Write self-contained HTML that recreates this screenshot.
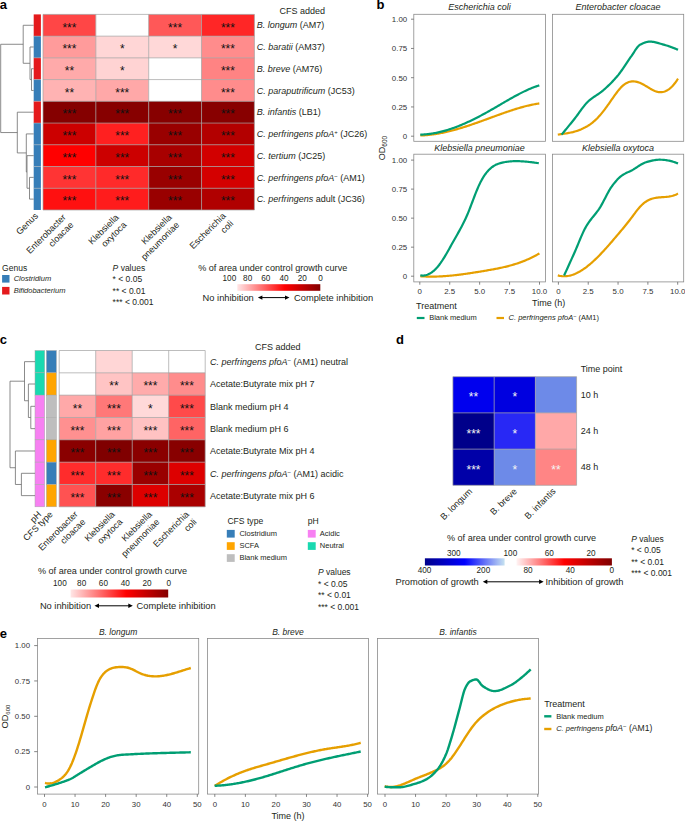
<!DOCTYPE html>
<html><head><meta charset="utf-8"><style>
html,body{margin:0;padding:0;background:#fff;}
body{width:685px;height:821px;overflow:hidden;}
svg{display:block;font-family:"Liberation Sans", sans-serif;}
</style></head><body>
<svg width="685" height="821" viewBox="0 0 685 821">
<text x="-0.30" y="9.30" font-size="13" text-anchor="start" fill="#000" font-weight="bold">a</text>
<rect x="43.00" y="14.40" width="52.85" height="21.73" fill="#ff4646"/>
<rect x="95.85" y="14.40" width="52.85" height="21.73" fill="#ffffff"/>
<rect x="148.70" y="14.40" width="52.85" height="21.73" fill="#ff5858"/>
<rect x="201.55" y="14.40" width="52.85" height="21.73" fill="#ff2626"/>
<rect x="43.00" y="36.13" width="52.85" height="21.73" fill="#ff9b9b"/>
<rect x="95.85" y="36.13" width="52.85" height="21.73" fill="#ffd6d6"/>
<rect x="148.70" y="36.13" width="52.85" height="21.73" fill="#ffd8d8"/>
<rect x="201.55" y="36.13" width="52.85" height="21.73" fill="#ff8c8c"/>
<rect x="43.00" y="57.86" width="52.85" height="21.73" fill="#ffaaaa"/>
<rect x="95.85" y="57.86" width="52.85" height="21.73" fill="#ffd3d3"/>
<rect x="148.70" y="57.86" width="52.85" height="21.73" fill="#ffffff"/>
<rect x="201.55" y="57.86" width="52.85" height="21.73" fill="#ff8383"/>
<rect x="43.00" y="79.59" width="52.85" height="21.73" fill="#ffb3b3"/>
<rect x="95.85" y="79.59" width="52.85" height="21.73" fill="#ffa8a8"/>
<rect x="148.70" y="79.59" width="52.85" height="21.73" fill="#ffffff"/>
<rect x="201.55" y="79.59" width="52.85" height="21.73" fill="#ff8c8c"/>
<rect x="43.00" y="101.32" width="52.85" height="21.73" fill="#850000"/>
<rect x="95.85" y="101.32" width="52.85" height="21.73" fill="#870000"/>
<rect x="148.70" y="101.32" width="52.85" height="21.73" fill="#870000"/>
<rect x="201.55" y="101.32" width="52.85" height="21.73" fill="#880000"/>
<rect x="43.00" y="123.05" width="52.85" height="21.73" fill="#cc0000"/>
<rect x="95.85" y="123.05" width="52.85" height="21.73" fill="#ff2020"/>
<rect x="148.70" y="123.05" width="52.85" height="21.73" fill="#990000"/>
<rect x="201.55" y="123.05" width="52.85" height="21.73" fill="#b30000"/>
<rect x="43.00" y="144.78" width="52.85" height="21.73" fill="#ff0000"/>
<rect x="95.85" y="144.78" width="52.85" height="21.73" fill="#cc0000"/>
<rect x="148.70" y="144.78" width="52.85" height="21.73" fill="#a80000"/>
<rect x="201.55" y="144.78" width="52.85" height="21.73" fill="#d20000"/>
<rect x="43.00" y="166.51" width="52.85" height="21.73" fill="#ff3434"/>
<rect x="95.85" y="166.51" width="52.85" height="21.73" fill="#ff2a2a"/>
<rect x="148.70" y="166.51" width="52.85" height="21.73" fill="#990000"/>
<rect x="201.55" y="166.51" width="52.85" height="21.73" fill="#d40000"/>
<rect x="43.00" y="188.24" width="52.85" height="21.73" fill="#ff1010"/>
<rect x="95.85" y="188.24" width="52.85" height="21.73" fill="#ff1c1c"/>
<rect x="148.70" y="188.24" width="52.85" height="21.73" fill="#990000"/>
<rect x="201.55" y="188.24" width="52.85" height="21.73" fill="#b00000"/>
<line x1="43.00" y1="14.40" x2="254.40" y2="14.40" stroke="#a0a0a0" stroke-width="0.7"/>
<line x1="43.00" y1="36.13" x2="254.40" y2="36.13" stroke="#a0a0a0" stroke-width="0.7"/>
<line x1="43.00" y1="57.86" x2="254.40" y2="57.86" stroke="#a0a0a0" stroke-width="0.7"/>
<line x1="43.00" y1="79.59" x2="254.40" y2="79.59" stroke="#a0a0a0" stroke-width="0.7"/>
<line x1="43.00" y1="101.32" x2="254.40" y2="101.32" stroke="#a0a0a0" stroke-width="0.7"/>
<line x1="43.00" y1="123.05" x2="254.40" y2="123.05" stroke="#a0a0a0" stroke-width="0.7"/>
<line x1="43.00" y1="144.78" x2="254.40" y2="144.78" stroke="#a0a0a0" stroke-width="0.7"/>
<line x1="43.00" y1="166.51" x2="254.40" y2="166.51" stroke="#a0a0a0" stroke-width="0.7"/>
<line x1="43.00" y1="188.24" x2="254.40" y2="188.24" stroke="#a0a0a0" stroke-width="0.7"/>
<line x1="43.00" y1="209.97" x2="254.40" y2="209.97" stroke="#a0a0a0" stroke-width="0.7"/>
<line x1="43.00" y1="14.40" x2="43.00" y2="209.97" stroke="#a0a0a0" stroke-width="0.7"/>
<line x1="95.85" y1="14.40" x2="95.85" y2="209.97" stroke="#a0a0a0" stroke-width="0.7"/>
<line x1="148.70" y1="14.40" x2="148.70" y2="209.97" stroke="#a0a0a0" stroke-width="0.7"/>
<line x1="201.55" y1="14.40" x2="201.55" y2="209.97" stroke="#a0a0a0" stroke-width="0.7"/>
<line x1="254.40" y1="14.40" x2="254.40" y2="209.97" stroke="#a0a0a0" stroke-width="0.7"/>
<text x="69.42" y="31.57" font-size="12" text-anchor="middle" fill="#111">***</text>
<text x="175.12" y="31.57" font-size="12" text-anchor="middle" fill="#111">***</text>
<text x="227.97" y="31.57" font-size="12" text-anchor="middle" fill="#111">***</text>
<text x="69.42" y="53.29" font-size="12" text-anchor="middle" fill="#111">***</text>
<text x="122.28" y="53.29" font-size="12" text-anchor="middle" fill="#111">*</text>
<text x="175.12" y="53.29" font-size="12" text-anchor="middle" fill="#111">*</text>
<text x="227.97" y="53.29" font-size="12" text-anchor="middle" fill="#111">***</text>
<text x="69.42" y="75.03" font-size="12" text-anchor="middle" fill="#111">**</text>
<text x="122.28" y="75.03" font-size="12" text-anchor="middle" fill="#111">*</text>
<text x="227.97" y="75.03" font-size="12" text-anchor="middle" fill="#111">***</text>
<text x="69.42" y="96.76" font-size="12" text-anchor="middle" fill="#111">**</text>
<text x="122.28" y="96.76" font-size="12" text-anchor="middle" fill="#111">***</text>
<text x="227.97" y="96.76" font-size="12" text-anchor="middle" fill="#111">***</text>
<text x="69.42" y="118.48" font-size="12" text-anchor="middle" fill="#111">***</text>
<text x="122.28" y="118.48" font-size="12" text-anchor="middle" fill="#111">***</text>
<text x="175.12" y="118.48" font-size="12" text-anchor="middle" fill="#111">***</text>
<text x="227.97" y="118.48" font-size="12" text-anchor="middle" fill="#111">***</text>
<text x="69.42" y="140.22" font-size="12" text-anchor="middle" fill="#111">***</text>
<text x="122.28" y="140.22" font-size="12" text-anchor="middle" fill="#111">***</text>
<text x="175.12" y="140.22" font-size="12" text-anchor="middle" fill="#111">***</text>
<text x="227.97" y="140.22" font-size="12" text-anchor="middle" fill="#111">***</text>
<text x="69.42" y="161.95" font-size="12" text-anchor="middle" fill="#111">***</text>
<text x="122.28" y="161.95" font-size="12" text-anchor="middle" fill="#111">***</text>
<text x="175.12" y="161.95" font-size="12" text-anchor="middle" fill="#111">***</text>
<text x="227.97" y="161.95" font-size="12" text-anchor="middle" fill="#111">***</text>
<text x="69.42" y="183.68" font-size="12" text-anchor="middle" fill="#111">***</text>
<text x="122.28" y="183.68" font-size="12" text-anchor="middle" fill="#111">***</text>
<text x="175.12" y="183.68" font-size="12" text-anchor="middle" fill="#111">***</text>
<text x="227.97" y="183.68" font-size="12" text-anchor="middle" fill="#111">***</text>
<text x="69.42" y="205.41" font-size="12" text-anchor="middle" fill="#111">***</text>
<text x="122.28" y="205.41" font-size="12" text-anchor="middle" fill="#111">***</text>
<text x="175.12" y="205.41" font-size="12" text-anchor="middle" fill="#111">***</text>
<text x="227.97" y="205.41" font-size="12" text-anchor="middle" fill="#111">***</text>
<rect x="33.70" y="14.40" width="7.20" height="21.73" fill="#e41a1c"/>
<rect x="33.70" y="36.13" width="7.20" height="21.73" fill="#377eb8"/>
<rect x="33.70" y="57.86" width="7.20" height="21.73" fill="#e41a1c"/>
<rect x="33.70" y="79.59" width="7.20" height="21.73" fill="#377eb8"/>
<rect x="33.70" y="101.32" width="7.20" height="21.73" fill="#e41a1c"/>
<rect x="33.70" y="123.05" width="7.20" height="21.73" fill="#377eb8"/>
<rect x="33.70" y="144.78" width="7.20" height="21.73" fill="#377eb8"/>
<rect x="33.70" y="166.51" width="7.20" height="21.73" fill="#377eb8"/>
<rect x="33.70" y="188.24" width="7.20" height="21.73" fill="#377eb8"/>
<line x1="33.70" y1="36.13" x2="40.90" y2="36.13" stroke="#bbbbbb" stroke-width="0.5"/>
<line x1="33.70" y1="57.86" x2="40.90" y2="57.86" stroke="#bbbbbb" stroke-width="0.5"/>
<line x1="33.70" y1="79.59" x2="40.90" y2="79.59" stroke="#bbbbbb" stroke-width="0.5"/>
<line x1="33.70" y1="101.32" x2="40.90" y2="101.32" stroke="#bbbbbb" stroke-width="0.5"/>
<line x1="33.70" y1="123.05" x2="40.90" y2="123.05" stroke="#bbbbbb" stroke-width="0.5"/>
<line x1="33.70" y1="144.78" x2="40.90" y2="144.78" stroke="#bbbbbb" stroke-width="0.5"/>
<line x1="33.70" y1="166.51" x2="40.90" y2="166.51" stroke="#bbbbbb" stroke-width="0.5"/>
<line x1="33.70" y1="188.24" x2="40.90" y2="188.24" stroke="#bbbbbb" stroke-width="0.5"/>
<text x="256.70" y="28.46" font-size="9" text-anchor="start" fill="#231f20"><tspan font-style="italic">B. longum</tspan> (AM7)</text>
<text x="256.70" y="50.20" font-size="9" text-anchor="start" fill="#231f20"><tspan font-style="italic">C. baratii</tspan> (AM37)</text>
<text x="256.70" y="71.93" font-size="9" text-anchor="start" fill="#231f20"><tspan font-style="italic">B. breve</tspan> (AM76)</text>
<text x="256.70" y="93.66" font-size="9" text-anchor="start" fill="#231f20"><tspan font-style="italic">C. paraputrificum</tspan> (JC53)</text>
<text x="256.70" y="115.39" font-size="9" text-anchor="start" fill="#231f20"><tspan font-style="italic">B. infantis</tspan> (LB1)</text>
<text x="256.70" y="137.11" font-size="9" text-anchor="start" fill="#231f20"><tspan font-style="italic">C. perfringens pfoA</tspan><tspan font-size="6" dy="-3">+</tspan><tspan dy="3"> (JC26)</tspan></text>
<text x="256.70" y="158.84" font-size="9" text-anchor="start" fill="#231f20"><tspan font-style="italic">C. tertium</tspan> (JC25)</text>
<text x="256.70" y="180.57" font-size="9" text-anchor="start" fill="#231f20"><tspan font-style="italic">C. perfringens pfoA</tspan><tspan font-size="6" dy="-3">−</tspan><tspan dy="3"> (AM1)</tspan></text>
<text x="256.70" y="202.31" font-size="9" text-anchor="start" fill="#231f20"><tspan font-style="italic">C. perfringens</tspan> adult (JC36)</text>
<text x="302.30" y="14.00" font-size="9" text-anchor="middle" fill="#231f20">CFS added</text>
<path d="M33.70,68.73 L31.50,68.73 L31.50,90.46 L33.70,90.46" stroke="#6d6d6d" stroke-width="0.8" fill="none"/>
<path d="M33.70,46.99 L30.00,46.99 L30.00,79.59 L31.50,79.59" stroke="#6d6d6d" stroke-width="0.8" fill="none"/>
<path d="M33.70,25.27 L23.20,25.27 L23.20,63.29 L30.00,63.29" stroke="#6d6d6d" stroke-width="0.8" fill="none"/>
<path d="M33.70,177.38 L29.50,177.38 L29.50,199.11 L33.70,199.11" stroke="#6d6d6d" stroke-width="0.8" fill="none"/>
<path d="M33.70,155.65 L27.00,155.65 L27.00,188.24 L29.50,188.24" stroke="#6d6d6d" stroke-width="0.8" fill="none"/>
<path d="M33.70,133.91 L26.30,133.91 L26.30,171.94 L27.00,171.94" stroke="#6d6d6d" stroke-width="0.8" fill="none"/>
<path d="M33.70,112.19 L17.30,112.19 L17.30,152.93 L26.30,152.93" stroke="#6d6d6d" stroke-width="0.8" fill="none"/>
<path d="M23.20,44.28 L0.70,44.28 L0.70,132.56 L17.30,132.56" stroke="#6d6d6d" stroke-width="0.8" fill="none"/>
<g transform="translate(38.60,216.60) rotate(-45)">
<text x="0" y="0.00" font-size="9" text-anchor="end" fill="#231f20">Genus</text>
</g>
<g transform="translate(74.12,225.50) rotate(-45)">
<text x="0" y="-10.80" font-size="9" text-anchor="end" fill="#231f20">Enterobacter</text>
<text x="0" y="0.00" font-size="9" text-anchor="end" fill="#231f20">cloacae</text>
</g>
<g transform="translate(126.98,225.50) rotate(-45)">
<text x="0" y="-10.80" font-size="9" text-anchor="end" fill="#231f20">Klebsiella</text>
<text x="0" y="0.00" font-size="9" text-anchor="end" fill="#231f20">oxytoca</text>
</g>
<g transform="translate(179.82,225.50) rotate(-45)">
<text x="0" y="-10.80" font-size="9" text-anchor="end" fill="#231f20">Klebsiella</text>
<text x="0" y="0.00" font-size="9" text-anchor="end" fill="#231f20">pneumoniae</text>
</g>
<g transform="translate(233.87,224.20) rotate(-45)">
<text x="0" y="-10.80" font-size="9" text-anchor="end" fill="#231f20">Escherichia</text>
<text x="0" y="0.00" font-size="9" text-anchor="end" fill="#231f20">coli</text>
</g>
<text x="2.10" y="271.00" font-size="8.5" text-anchor="start" fill="#231f20">Genus</text>
<rect x="2.10" y="275.00" width="7.40" height="7.60" fill="#377eb8"/>
<text x="13.70" y="281.00" font-size="7.5" text-anchor="start" fill="#231f20" font-style="italic">Clostridium</text>
<rect x="2.10" y="286.90" width="7.40" height="7.60" fill="#e41a1c"/>
<text x="13.70" y="293.00" font-size="7.5" text-anchor="start" fill="#231f20" font-style="italic">Bifidobacterium</text>
<text x="112.60" y="271.00" font-size="8.5" text-anchor="start" fill="#231f20"><tspan font-style="italic">P</tspan> values</text>
<text x="112.60" y="282.30" font-size="8.5" text-anchor="start" fill="#231f20">* &lt; 0.05</text>
<text x="112.60" y="293.60" font-size="8.5" text-anchor="start" fill="#231f20">** &lt; 0.01</text>
<text x="112.60" y="305.00" font-size="8.5" text-anchor="start" fill="#231f20">*** &lt; 0.001</text>
<text x="272.70" y="271.00" font-size="9.1" text-anchor="middle" fill="#231f20">% of area under control growth curve</text>
<text x="229.40" y="280.70" font-size="8.2" text-anchor="middle" fill="#231f20">100</text>
<text x="247.64" y="280.70" font-size="8.2" text-anchor="middle" fill="#231f20">80</text>
<text x="265.88" y="280.70" font-size="8.2" text-anchor="middle" fill="#231f20">60</text>
<text x="284.12" y="280.70" font-size="8.2" text-anchor="middle" fill="#231f20">40</text>
<text x="302.36" y="280.70" font-size="8.2" text-anchor="middle" fill="#231f20">20</text>
<text x="320.60" y="280.70" font-size="8.2" text-anchor="middle" fill="#231f20">0</text>
<defs><linearGradient id="redg" x1="0" x2="1" y1="0" y2="0"><stop offset="0" stop-color="#ffe6e6"/><stop offset="0.57" stop-color="#ff0000"/><stop offset="1" stop-color="#850000"/></linearGradient><linearGradient id="blueg" x1="0" x2="1" y1="0" y2="0"><stop offset="0" stop-color="#00008b"/><stop offset="0.5" stop-color="#0000ff"/><stop offset="1" stop-color="#c6e2f0"/></linearGradient><linearGradient id="redg2" x1="0" x2="1" y1="0" y2="0"><stop offset="0" stop-color="#fff4f4"/><stop offset="0.5" stop-color="#ff0000"/><stop offset="1" stop-color="#800000"/></linearGradient></defs>
<rect x="237.30" y="284.20" width="83.00" height="6.60" fill="url(#redg)"/>
<text x="202.60" y="300.50" font-size="9.3" text-anchor="start" fill="#231f20">No inhibition</text>
<line x1="260.90" y1="297.60" x2="286.50" y2="297.60" stroke="#000" stroke-width="1.0"/>
<path d="M257.90,297.60 L262.40,295.40 L262.40,299.80 Z" stroke="none" stroke-width="0" fill="#000"/>
<path d="M289.50,297.60 L285.00,295.40 L285.00,299.80 Z" stroke="none" stroke-width="0" fill="#000"/>
<text x="294.00" y="300.50" font-size="9.3" text-anchor="start" fill="#231f20">Complete inhibition</text>
<text x="376.60" y="9.10" font-size="13" text-anchor="start" fill="#000" font-weight="bold">b</text>
<rect x="413.80" y="14.30" width="131.70" height="127.00" fill="none" stroke="#8a8a8a" stroke-width="0.8"/>
<line x1="411.00" y1="136.20" x2="413.80" y2="136.20" stroke="#666" stroke-width="0.8"/>
<text x="407.20" y="139.05" font-size="7.9" text-anchor="end" fill="#333">0</text>
<line x1="411.00" y1="106.95" x2="413.80" y2="106.95" stroke="#666" stroke-width="0.8"/>
<text x="407.20" y="109.80" font-size="7.9" text-anchor="end" fill="#333">0.25</text>
<line x1="411.00" y1="77.70" x2="413.80" y2="77.70" stroke="#666" stroke-width="0.8"/>
<text x="407.20" y="80.55" font-size="7.9" text-anchor="end" fill="#333">0.50</text>
<line x1="411.00" y1="48.45" x2="413.80" y2="48.45" stroke="#666" stroke-width="0.8"/>
<text x="407.20" y="51.30" font-size="7.9" text-anchor="end" fill="#333">0.75</text>
<line x1="411.00" y1="19.20" x2="413.80" y2="19.20" stroke="#666" stroke-width="0.8"/>
<text x="407.20" y="22.05" font-size="7.9" text-anchor="end" fill="#333">1.00</text>
<rect x="552.40" y="14.30" width="131.30" height="127.00" fill="none" stroke="#8a8a8a" stroke-width="0.8"/>
<rect x="413.80" y="154.20" width="131.70" height="127.70" fill="none" stroke="#8a8a8a" stroke-width="0.8"/>
<line x1="411.00" y1="276.20" x2="413.80" y2="276.20" stroke="#666" stroke-width="0.8"/>
<text x="407.20" y="279.05" font-size="7.9" text-anchor="end" fill="#333">0</text>
<line x1="411.00" y1="247.17" x2="413.80" y2="247.17" stroke="#666" stroke-width="0.8"/>
<text x="407.20" y="250.02" font-size="7.9" text-anchor="end" fill="#333">0.25</text>
<line x1="411.00" y1="218.15" x2="413.80" y2="218.15" stroke="#666" stroke-width="0.8"/>
<text x="407.20" y="221.00" font-size="7.9" text-anchor="end" fill="#333">0.50</text>
<line x1="411.00" y1="189.12" x2="413.80" y2="189.12" stroke="#666" stroke-width="0.8"/>
<text x="407.20" y="191.97" font-size="7.9" text-anchor="end" fill="#333">0.75</text>
<line x1="411.00" y1="160.10" x2="413.80" y2="160.10" stroke="#666" stroke-width="0.8"/>
<text x="407.20" y="162.95" font-size="7.9" text-anchor="end" fill="#333">1.00</text>
<line x1="419.80" y1="281.90" x2="419.80" y2="284.70" stroke="#666" stroke-width="0.8"/>
<text x="419.80" y="293.80" font-size="7.9" text-anchor="middle" fill="#333">0</text>
<line x1="449.73" y1="281.90" x2="449.73" y2="284.70" stroke="#666" stroke-width="0.8"/>
<text x="449.73" y="293.80" font-size="7.9" text-anchor="middle" fill="#333">2.5</text>
<line x1="479.65" y1="281.90" x2="479.65" y2="284.70" stroke="#666" stroke-width="0.8"/>
<text x="479.65" y="293.80" font-size="7.9" text-anchor="middle" fill="#333">5.0</text>
<line x1="509.57" y1="281.90" x2="509.57" y2="284.70" stroke="#666" stroke-width="0.8"/>
<text x="509.57" y="293.80" font-size="7.9" text-anchor="middle" fill="#333">7.5</text>
<line x1="539.50" y1="281.90" x2="539.50" y2="284.70" stroke="#666" stroke-width="0.8"/>
<text x="539.50" y="293.80" font-size="7.9" text-anchor="middle" fill="#333">10.0</text>
<rect x="552.40" y="154.20" width="131.30" height="127.70" fill="none" stroke="#8a8a8a" stroke-width="0.8"/>
<line x1="558.40" y1="281.90" x2="558.40" y2="284.70" stroke="#666" stroke-width="0.8"/>
<text x="558.40" y="293.80" font-size="7.9" text-anchor="middle" fill="#333">0</text>
<line x1="588.23" y1="281.90" x2="588.23" y2="284.70" stroke="#666" stroke-width="0.8"/>
<text x="588.23" y="293.80" font-size="7.9" text-anchor="middle" fill="#333">2.5</text>
<line x1="618.05" y1="281.90" x2="618.05" y2="284.70" stroke="#666" stroke-width="0.8"/>
<text x="618.05" y="293.80" font-size="7.9" text-anchor="middle" fill="#333">5.0</text>
<line x1="647.88" y1="281.90" x2="647.88" y2="284.70" stroke="#666" stroke-width="0.8"/>
<text x="647.88" y="293.80" font-size="7.9" text-anchor="middle" fill="#333">7.5</text>
<line x1="677.70" y1="281.90" x2="677.70" y2="284.70" stroke="#666" stroke-width="0.8"/>
<text x="677.70" y="293.80" font-size="7.9" text-anchor="middle" fill="#333">10.0</text>
<text x="479.60" y="9.60" font-size="9" text-anchor="middle" fill="#231f20" font-style="italic">Escherichia coli</text>
<text x="618.00" y="9.60" font-size="9" text-anchor="middle" fill="#231f20" font-style="italic">Enterobacter cloacae</text>
<text x="479.60" y="151.00" font-size="9" text-anchor="middle" fill="#231f20" font-style="italic">Klebsiella pneumoniae</text>
<text x="618.00" y="151.00" font-size="9" text-anchor="middle" fill="#231f20" font-style="italic">Klebsiella oxytoca</text>
<text transform="translate(384.9,160.2) rotate(-90)" font-size="9" fill="#231f20">OD<tspan font-size="6.5" dy="2.2">600</tspan></text>
<text x="548.70" y="305.70" font-size="9" text-anchor="middle" fill="#231f20">Time (h)</text>
<text x="416.00" y="309.20" font-size="9" text-anchor="start" fill="#231f20">Treatment</text>
<line x1="416.80" y1="318.00" x2="424.50" y2="318.00" stroke="#009e73" stroke-width="2.2"/>
<text x="429.20" y="320.30" font-size="7.5" text-anchor="start" fill="#231f20">Blank medium</text>
<line x1="496.50" y1="318.00" x2="504.00" y2="318.00" stroke="#e69f00" stroke-width="2.2"/>
<text x="508.60" y="320.30" font-size="7.5" text-anchor="start" fill="#231f20"><tspan font-style="italic">C. perfringens pfoA</tspan><tspan font-size="5.5" dy="-2.6">−</tspan><tspan dy="2.6"> (AM1)</tspan></text>
<path d="M420.30,135.46 L421.30,135.43 L422.30,135.39 L423.30,135.34 L424.30,135.28 L425.30,135.22 L426.30,135.14 L427.30,135.06 L428.30,134.96 L429.30,134.86 L430.30,134.75 L431.30,134.63 L432.30,134.51 L433.30,134.37 L434.30,134.23 L435.30,134.08 L436.30,133.92 L437.30,133.76 L438.30,133.58 L439.30,133.40 L440.30,133.22 L441.30,133.02 L442.30,132.82 L443.30,132.62 L444.30,132.40 L445.30,132.18 L446.30,131.96 L447.30,131.72 L448.30,131.48 L449.30,131.24 L450.30,130.99 L451.30,130.74 L452.30,130.47 L453.30,130.21 L454.30,129.94 L455.30,129.66 L456.30,129.38 L457.30,129.09 L458.30,128.80 L459.30,128.51 L460.30,128.21 L461.30,127.91 L462.30,127.60 L463.30,127.29 L464.30,126.97 L465.30,126.65 L466.30,126.33 L467.30,126.00 L468.30,125.67 L469.30,125.34 L470.30,125.01 L471.30,124.67 L472.30,124.33 L473.30,123.98 L474.30,123.64 L475.30,123.29 L476.30,122.94 L477.30,122.59 L478.30,122.23 L479.30,121.88 L480.30,121.52 L481.30,121.16 L482.30,120.80 L483.30,120.44 L484.30,120.08 L485.30,119.71 L486.30,119.35 L487.30,118.98 L488.30,118.62 L489.30,118.25 L490.30,117.88 L491.30,117.52 L492.30,117.15 L493.30,116.79 L494.30,116.42 L495.30,116.05 L496.30,115.69 L497.30,115.33 L498.30,114.96 L499.30,114.60 L500.30,114.24 L501.30,113.89 L502.30,113.53 L503.30,113.18 L504.30,112.82 L505.30,112.48 L506.30,112.13 L507.30,111.79 L508.30,111.45 L509.30,111.11 L510.30,110.77 L511.30,110.44 L512.30,110.12 L513.30,109.79 L514.30,109.48 L515.30,109.16 L516.30,108.85 L517.30,108.55 L518.30,108.25 L519.30,107.95 L520.30,107.66 L521.30,107.38 L522.30,107.10 L523.30,106.83 L524.30,106.56 L525.30,106.30 L526.30,106.05 L527.30,105.80 L528.30,105.56 L529.30,105.33 L530.30,105.10 L531.30,104.88 L532.30,104.67 L533.30,104.47 L534.30,104.27 L535.30,104.09 L536.30,103.91 L537.30,103.74 L538.30,103.58 L539.30,103.42" stroke="#e69f00" stroke-width="2.2" fill="none" stroke-linecap="butt" stroke-linejoin="round"/>
<path d="M420.30,134.60 L421.30,134.58 L422.30,134.54 L423.30,134.49 L424.30,134.43 L425.30,134.36 L426.30,134.27 L427.30,134.18 L428.30,134.07 L429.30,133.95 L430.30,133.82 L431.30,133.68 L432.30,133.53 L433.30,133.37 L434.30,133.19 L435.30,133.01 L436.30,132.82 L437.30,132.61 L438.30,132.40 L439.30,132.17 L440.30,131.94 L441.30,131.69 L442.30,131.44 L443.30,131.18 L444.30,130.90 L445.30,130.62 L446.30,130.33 L447.30,130.03 L448.30,129.72 L449.30,129.40 L450.30,129.07 L451.30,128.74 L452.30,128.40 L453.30,128.04 L454.30,127.68 L455.30,127.32 L456.30,126.94 L457.30,126.56 L458.30,126.17 L459.30,125.77 L460.30,125.36 L461.30,124.95 L462.30,124.53 L463.30,124.10 L464.30,123.67 L465.30,123.23 L466.30,122.78 L467.30,122.32 L468.30,121.86 L469.30,121.40 L470.30,120.92 L471.30,120.45 L472.30,119.96 L473.30,119.47 L474.30,118.98 L475.30,118.48 L476.30,117.97 L477.30,117.46 L478.30,116.94 L479.30,116.42 L480.30,115.89 L481.30,115.36 L482.30,114.83 L483.30,114.29 L484.30,113.74 L485.30,113.20 L486.30,112.64 L487.30,112.09 L488.30,111.53 L489.30,110.96 L490.30,110.40 L491.30,109.83 L492.30,109.25 L493.30,108.68 L494.30,108.10 L495.30,107.52 L496.30,106.93 L497.30,106.35 L498.30,105.76 L499.30,105.18 L500.30,104.59 L501.30,104.01 L502.30,103.42 L503.30,102.84 L504.30,102.25 L505.30,101.67 L506.30,101.09 L507.30,100.51 L508.30,99.94 L509.30,99.37 L510.30,98.80 L511.30,98.23 L512.30,97.67 L513.30,97.11 L514.30,96.56 L515.30,96.02 L516.30,95.47 L517.30,94.94 L518.30,94.41 L519.30,93.89 L520.30,93.37 L521.30,92.86 L522.30,92.36 L523.30,91.87 L524.30,91.38 L525.30,90.91 L526.30,90.44 L527.30,89.98 L528.30,89.54 L529.30,89.10 L530.30,88.67 L531.30,88.26 L532.30,87.85 L533.30,87.46 L534.30,87.08 L535.30,86.71 L536.30,86.35 L537.30,86.01 L538.30,85.68 L539.30,85.36" stroke="#009e73" stroke-width="2.2" fill="none" stroke-linecap="butt" stroke-linejoin="round"/>
<path d="M557.80,134.61 L558.80,134.47 L559.80,134.34 L560.80,134.20 L561.80,134.06 L562.80,133.92 L563.80,133.78 L564.80,133.63 L565.80,133.47 L566.80,133.30 L567.80,133.13 L568.80,132.94 L569.80,132.75 L570.80,132.54 L571.80,132.31 L572.80,132.08 L573.80,131.82 L574.80,131.55 L575.80,131.26 L576.80,130.95 L577.80,130.62 L578.80,130.26 L579.80,129.88 L580.80,129.48 L581.80,129.05 L582.80,128.60 L583.80,128.11 L584.80,127.60 L585.80,127.05 L586.80,126.48 L587.80,125.87 L588.80,125.22 L589.80,124.54 L590.80,123.82 L591.80,123.07 L592.80,122.27 L593.80,121.44 L594.80,120.56 L595.80,119.64 L596.80,118.68 L597.80,117.67 L598.80,116.61 L599.80,115.51 L600.80,114.36 L601.80,113.16 L602.80,111.91 L603.80,110.63 L604.80,109.31 L605.80,107.96 L606.80,106.59 L607.80,105.19 L608.80,103.78 L609.80,102.35 L610.80,100.92 L611.80,99.48 L612.80,98.04 L613.80,96.61 L614.80,95.20 L615.80,93.82 L616.80,92.48 L617.80,91.18 L618.80,89.93 L619.80,88.74 L620.80,87.63 L621.80,86.60 L622.80,85.66 L623.80,84.82 L624.80,84.07 L625.80,83.43 L626.80,82.88 L627.80,82.42 L628.80,82.05 L629.80,81.77 L630.80,81.56 L631.80,81.44 L632.80,81.39 L633.80,81.41 L634.80,81.49 L635.80,81.65 L636.80,81.86 L637.80,82.13 L638.80,82.46 L639.80,82.83 L640.80,83.26 L641.80,83.73 L642.80,84.24 L643.80,84.78 L644.80,85.36 L645.80,85.95 L646.80,86.56 L647.80,87.17 L648.80,87.78 L649.80,88.38 L650.80,88.96 L651.80,89.52 L652.80,90.04 L653.80,90.53 L654.80,90.96 L655.80,91.34 L656.80,91.66 L657.80,91.91 L658.80,92.08 L659.80,92.17 L660.80,92.19 L661.80,92.12 L662.80,91.98 L663.80,91.75 L664.80,91.43 L665.80,91.03 L666.80,90.54 L667.80,89.96 L668.80,89.29 L669.80,88.53 L670.80,87.68 L671.80,86.73 L672.80,85.69 L673.80,84.55 L674.80,83.31 L675.80,81.97 L676.80,80.52 L677.80,78.98 L678.00,78.66" stroke="#e69f00" stroke-width="2.2" fill="none" stroke-linecap="butt" stroke-linejoin="round"/>
<path d="M561.60,134.60 L562.60,133.41 L563.60,132.21 L564.60,131.01 L565.60,129.80 L566.60,128.59 L567.60,127.38 L568.60,126.16 L569.60,124.93 L570.60,123.71 L571.60,122.47 L572.60,121.24 L573.60,120.00 L574.60,118.74 L575.60,117.44 L576.60,116.10 L577.60,114.74 L578.60,113.35 L579.60,111.96 L580.60,110.58 L581.60,109.21 L582.60,107.87 L583.60,106.57 L584.60,105.32 L585.60,104.13 L586.60,103.01 L587.60,101.98 L588.60,101.03 L589.60,100.16 L590.60,99.35 L591.60,98.59 L592.60,97.87 L593.60,97.18 L594.60,96.51 L595.60,95.85 L596.60,95.20 L597.60,94.54 L598.60,93.86 L599.60,93.16 L600.60,92.43 L601.60,91.66 L602.60,90.83 L603.60,89.97 L604.60,89.10 L605.60,88.21 L606.60,87.30 L607.60,86.36 L608.60,85.41 L609.60,84.44 L610.60,83.44 L611.60,82.42 L612.60,81.38 L613.60,80.31 L614.60,79.22 L615.60,78.11 L616.60,76.97 L617.60,75.80 L618.60,74.58 L619.60,73.28 L620.60,71.92 L621.60,70.51 L622.60,69.05 L623.60,67.57 L624.60,66.06 L625.60,64.54 L626.60,63.03 L627.60,61.53 L628.60,60.05 L629.60,58.61 L630.60,57.21 L631.60,55.82 L632.60,54.33 L633.60,52.78 L634.60,51.22 L635.60,49.70 L636.60,48.27 L637.60,46.98 L638.60,45.87 L639.60,44.99 L640.60,44.40 L641.60,43.92 L642.60,43.46 L643.60,43.04 L644.60,42.65 L645.60,42.32 L646.60,42.04 L647.60,41.82 L648.60,41.67 L649.60,41.60 L650.60,41.61 L651.60,41.68 L652.60,41.79 L653.60,41.95 L654.60,42.14 L655.60,42.36 L656.60,42.61 L657.60,42.88 L658.60,43.17 L659.60,43.46 L660.60,43.76 L661.60,44.05 L662.60,44.34 L663.60,44.61 L664.60,44.89 L665.60,45.19 L666.60,45.50 L667.60,45.82 L668.60,46.15 L669.60,46.49 L670.60,46.85 L671.60,47.22 L672.60,47.60 L673.60,47.98 L674.60,48.38 L675.60,48.79 L676.60,49.20 L677.60,49.63 L678.00,49.80" stroke="#009e73" stroke-width="2.2" fill="none" stroke-linecap="butt" stroke-linejoin="round"/>
<path d="M420.30,276.25 L421.30,276.32 L422.30,276.38 L423.30,276.43 L424.30,276.48 L425.30,276.52 L426.30,276.55 L427.30,276.58 L428.30,276.60 L429.30,276.62 L430.30,276.62 L431.30,276.63 L432.30,276.62 L433.30,276.61 L434.30,276.60 L435.30,276.58 L436.30,276.55 L437.30,276.52 L438.30,276.48 L439.30,276.44 L440.30,276.39 L441.30,276.34 L442.30,276.29 L443.30,276.22 L444.30,276.16 L445.30,276.09 L446.30,276.01 L447.30,275.93 L448.30,275.85 L449.30,275.76 L450.30,275.67 L451.30,275.57 L452.30,275.47 L453.30,275.37 L454.30,275.26 L455.30,275.15 L456.30,275.04 L457.30,274.92 L458.30,274.80 L459.30,274.68 L460.30,274.55 L461.30,274.42 L462.30,274.29 L463.30,274.15 L464.30,274.02 L465.30,273.88 L466.30,273.73 L467.30,273.59 L468.30,273.44 L469.30,273.29 L470.30,273.14 L471.30,272.99 L472.30,272.83 L473.30,272.68 L474.30,272.52 L475.30,272.36 L476.30,272.20 L477.30,272.04 L478.30,271.88 L479.30,271.71 L480.30,271.55 L481.30,271.38 L482.30,271.22 L483.30,271.05 L484.30,270.88 L485.30,270.72 L486.30,270.55 L487.30,270.38 L488.30,270.20 L489.30,270.03 L490.30,269.86 L491.30,269.68 L492.30,269.50 L493.30,269.32 L494.30,269.13 L495.30,268.94 L496.30,268.75 L497.30,268.55 L498.30,268.35 L499.30,268.15 L500.30,267.94 L501.30,267.72 L502.30,267.50 L503.30,267.28 L504.30,267.05 L505.30,266.81 L506.30,266.57 L507.30,266.32 L508.30,266.07 L509.30,265.80 L510.30,265.53 L511.30,265.26 L512.30,264.97 L513.30,264.68 L514.30,264.38 L515.30,264.07 L516.30,263.75 L517.30,263.43 L518.30,263.09 L519.30,262.75 L520.30,262.39 L521.30,262.02 L522.30,261.65 L523.30,261.26 L524.30,260.87 L525.30,260.46 L526.30,260.04 L527.30,259.61 L528.30,259.17 L529.30,258.71 L530.30,258.25 L531.30,257.77 L532.30,257.27 L533.30,256.77 L534.30,256.25 L535.30,255.72 L536.30,255.17 L537.30,254.61 L538.30,254.04 L539.30,253.45 L539.40,253.39" stroke="#e69f00" stroke-width="2.2" fill="none" stroke-linecap="butt" stroke-linejoin="round"/>
<path d="M420.30,275.33 L421.30,275.47 L422.30,275.54 L423.30,275.53 L424.30,275.45 L425.30,275.29 L426.30,275.05 L427.30,274.73 L428.30,274.34 L429.30,273.87 L430.30,273.32 L431.30,272.69 L432.30,271.98 L433.30,271.19 L434.30,270.32 L435.30,269.37 L436.30,268.34 L437.30,267.23 L438.30,266.04 L439.30,264.77 L440.30,263.41 L441.30,261.98 L442.30,260.49 L443.30,258.93 L444.30,257.32 L445.30,255.66 L446.30,253.96 L447.30,252.22 L448.30,250.46 L449.30,248.68 L450.30,246.89 L451.30,245.09 L452.30,243.29 L453.30,241.51 L454.30,239.73 L455.30,237.96 L456.30,236.20 L457.30,234.42 L458.30,232.64 L459.30,230.85 L460.30,229.03 L461.30,227.18 L462.30,225.29 L463.30,223.35 L464.30,221.34 L465.30,219.25 L466.30,217.06 L467.30,214.76 L468.30,212.34 L469.30,209.84 L470.30,207.27 L471.30,204.65 L472.30,202.01 L473.30,199.37 L474.30,196.75 L475.30,194.17 L476.30,191.65 L477.30,189.21 L478.30,186.88 L479.30,184.67 L480.30,182.61 L481.30,180.68 L482.30,178.88 L483.30,177.21 L484.30,175.66 L485.30,174.22 L486.30,172.89 L487.30,171.67 L488.30,170.55 L489.30,169.53 L490.30,168.59 L491.30,167.74 L492.30,166.97 L493.30,166.28 L494.30,165.66 L495.30,165.10 L496.30,164.61 L497.30,164.16 L498.30,163.77 L499.30,163.43 L500.30,163.12 L501.30,162.85 L502.30,162.62 L503.30,162.40 L504.30,162.21 L505.30,162.03 L506.30,161.88 L507.30,161.74 L508.30,161.61 L509.30,161.50 L510.30,161.41 L511.30,161.33 L512.30,161.27 L513.30,161.22 L514.30,161.19 L515.30,161.17 L516.30,161.16 L517.30,161.16 L518.30,161.18 L519.30,161.20 L520.30,161.24 L521.30,161.29 L522.30,161.34 L523.30,161.41 L524.30,161.48 L525.30,161.57 L526.30,161.66 L527.30,161.75 L528.30,161.86 L529.30,161.97 L530.30,162.09 L531.30,162.21 L532.30,162.33 L533.30,162.46 L534.30,162.60 L535.30,162.74 L536.30,162.88 L537.30,163.02 L538.30,163.16 L538.80,163.23" stroke="#009e73" stroke-width="2.2" fill="none" stroke-linecap="butt" stroke-linejoin="round"/>
<path d="M557.80,275.41 L558.80,275.66 L559.80,275.87 L560.80,276.03 L561.80,276.15 L562.80,276.23 L563.80,276.26 L564.80,276.25 L565.80,276.19 L566.80,276.10 L567.80,275.97 L568.80,275.79 L569.80,275.58 L570.80,275.33 L571.80,275.04 L572.80,274.72 L573.80,274.36 L574.80,273.96 L575.80,273.53 L576.80,273.07 L577.80,272.57 L578.80,272.05 L579.80,271.49 L580.80,270.90 L581.80,270.28 L582.80,269.63 L583.80,268.95 L584.80,268.25 L585.80,267.52 L586.80,266.76 L587.80,265.98 L588.80,265.18 L589.80,264.35 L590.80,263.50 L591.80,262.62 L592.80,261.73 L593.80,260.81 L594.80,259.87 L595.80,258.92 L596.80,257.95 L597.80,256.95 L598.80,255.95 L599.80,254.92 L600.80,253.88 L601.80,252.83 L602.80,251.76 L603.80,250.68 L604.80,249.59 L605.80,248.48 L606.80,247.37 L607.80,246.24 L608.80,245.11 L609.80,243.97 L610.80,242.82 L611.80,241.66 L612.80,240.50 L613.80,239.33 L614.80,238.15 L615.80,236.97 L616.80,235.79 L617.80,234.61 L618.80,233.42 L619.80,232.24 L620.80,231.05 L621.80,229.86 L622.80,228.67 L623.80,227.46 L624.80,226.25 L625.80,225.03 L626.80,223.79 L627.80,222.54 L628.80,221.27 L629.80,219.98 L630.80,218.67 L631.80,217.33 L632.80,215.99 L633.80,214.63 L634.80,213.29 L635.80,211.96 L636.80,210.67 L637.80,209.41 L638.80,208.20 L639.80,207.05 L640.80,205.98 L641.80,204.98 L642.80,204.06 L643.80,203.21 L644.80,202.44 L645.80,201.73 L646.80,201.08 L647.80,200.51 L648.80,199.99 L649.80,199.53 L650.80,199.13 L651.80,198.78 L652.80,198.48 L653.80,198.22 L654.80,198.00 L655.80,197.82 L656.80,197.67 L657.80,197.54 L658.80,197.44 L659.80,197.35 L660.80,197.28 L661.80,197.21 L662.80,197.15 L663.80,197.08 L664.80,197.01 L665.80,196.94 L666.80,196.84 L667.80,196.73 L668.80,196.60 L669.80,196.43 L670.80,196.24 L671.80,196.01 L672.80,195.74 L673.80,195.42 L674.80,195.06 L675.80,194.64 L676.80,194.16 L677.80,193.61 L678.00,193.50" stroke="#e69f00" stroke-width="2.2" fill="none" stroke-linecap="butt" stroke-linejoin="round"/>
<path d="M564.10,275.50 L565.10,273.31 L566.10,271.12 L567.10,268.93 L568.10,266.73 L569.10,264.53 L570.10,262.33 L571.10,260.12 L572.10,257.91 L573.10,255.69 L574.10,253.48 L575.10,251.21 L576.10,248.87 L577.10,246.48 L578.10,244.07 L579.10,241.66 L580.10,239.27 L581.10,236.92 L582.10,234.63 L583.10,232.42 L584.10,230.33 L585.10,228.36 L586.10,226.54 L587.10,224.88 L588.10,223.34 L589.10,221.89 L590.10,220.52 L591.10,219.21 L592.10,217.94 L593.10,216.71 L594.10,215.48 L595.10,214.24 L596.10,212.98 L597.10,211.67 L598.10,210.30 L599.10,208.86 L600.10,207.31 L601.10,205.64 L602.10,203.86 L603.10,202.00 L604.10,200.09 L605.10,198.15 L606.10,196.21 L607.10,194.30 L608.10,192.44 L609.10,190.65 L610.10,188.97 L611.10,187.43 L612.10,186.03 L613.10,184.71 L614.10,183.43 L615.10,182.19 L616.10,181.00 L617.10,179.87 L618.10,178.81 L619.10,177.83 L620.10,176.93 L621.10,176.12 L622.10,175.41 L623.10,174.76 L624.10,174.16 L625.10,173.61 L626.10,173.09 L627.10,172.60 L628.10,172.12 L629.10,171.65 L630.10,171.18 L631.10,170.69 L632.10,170.18 L633.10,169.63 L634.10,169.04 L635.10,168.42 L636.10,167.77 L637.10,167.11 L638.10,166.44 L639.10,165.78 L640.10,165.14 L641.10,164.52 L642.10,163.94 L643.10,163.41 L644.10,162.93 L645.10,162.53 L646.10,162.20 L647.10,161.92 L648.10,161.64 L649.10,161.37 L650.10,161.10 L651.10,160.85 L652.10,160.62 L653.10,160.41 L654.10,160.22 L655.10,160.05 L656.10,159.91 L657.10,159.81 L658.10,159.73 L659.10,159.70 L660.10,159.70 L661.10,159.73 L662.10,159.77 L663.10,159.84 L664.10,159.92 L665.10,160.03 L666.10,160.16 L667.10,160.31 L668.10,160.48 L669.10,160.67 L670.10,160.89 L671.10,161.14 L672.10,161.40 L673.10,161.70 L674.10,162.01 L675.10,162.36 L676.10,162.73 L677.10,163.12 L678.00,163.50" stroke="#009e73" stroke-width="2.2" fill="none" stroke-linecap="butt" stroke-linejoin="round"/>
<text x="-0.30" y="344.00" font-size="13" text-anchor="start" fill="#000" font-weight="bold">c</text>
<rect x="59.20" y="350.50" width="36.50" height="22.33" fill="#ffffff"/>
<rect x="95.70" y="350.50" width="36.50" height="22.33" fill="#ffd6d6"/>
<rect x="132.20" y="350.50" width="36.50" height="22.33" fill="#ffffff"/>
<rect x="168.70" y="350.50" width="36.50" height="22.33" fill="#ffffff"/>
<rect x="59.20" y="372.83" width="36.50" height="22.33" fill="#ffffff"/>
<rect x="95.70" y="372.83" width="36.50" height="22.33" fill="#ffc4c4"/>
<rect x="132.20" y="372.83" width="36.50" height="22.33" fill="#ffabab"/>
<rect x="168.70" y="372.83" width="36.50" height="22.33" fill="#ff8c8c"/>
<rect x="59.20" y="395.16" width="36.50" height="22.33" fill="#ffa9a9"/>
<rect x="95.70" y="395.16" width="36.50" height="22.33" fill="#ff7878"/>
<rect x="132.20" y="395.16" width="36.50" height="22.33" fill="#ffd9d9"/>
<rect x="168.70" y="395.16" width="36.50" height="22.33" fill="#ff4a4a"/>
<rect x="59.20" y="417.49" width="36.50" height="22.33" fill="#ff9090"/>
<rect x="95.70" y="417.49" width="36.50" height="22.33" fill="#ffa2a2"/>
<rect x="132.20" y="417.49" width="36.50" height="22.33" fill="#ffc2c2"/>
<rect x="168.70" y="417.49" width="36.50" height="22.33" fill="#ff6464"/>
<rect x="59.20" y="439.82" width="36.50" height="22.33" fill="#8a0000"/>
<rect x="95.70" y="439.82" width="36.50" height="22.33" fill="#800000"/>
<rect x="132.20" y="439.82" width="36.50" height="22.33" fill="#8a0000"/>
<rect x="168.70" y="439.82" width="36.50" height="22.33" fill="#880000"/>
<rect x="59.20" y="462.15" width="36.50" height="22.33" fill="#ff2c2c"/>
<rect x="95.70" y="462.15" width="36.50" height="22.33" fill="#ff2c2c"/>
<rect x="132.20" y="462.15" width="36.50" height="22.33" fill="#990000"/>
<rect x="168.70" y="462.15" width="36.50" height="22.33" fill="#dd0000"/>
<rect x="59.20" y="484.48" width="36.50" height="22.33" fill="#ff5252"/>
<rect x="95.70" y="484.48" width="36.50" height="22.33" fill="#8a0000"/>
<rect x="132.20" y="484.48" width="36.50" height="22.33" fill="#dd0000"/>
<rect x="168.70" y="484.48" width="36.50" height="22.33" fill="#aa0000"/>
<line x1="59.20" y1="350.50" x2="205.20" y2="350.50" stroke="#a0a0a0" stroke-width="0.7"/>
<line x1="59.20" y1="372.83" x2="205.20" y2="372.83" stroke="#a0a0a0" stroke-width="0.7"/>
<line x1="59.20" y1="395.16" x2="205.20" y2="395.16" stroke="#a0a0a0" stroke-width="0.7"/>
<line x1="59.20" y1="417.49" x2="205.20" y2="417.49" stroke="#a0a0a0" stroke-width="0.7"/>
<line x1="59.20" y1="439.82" x2="205.20" y2="439.82" stroke="#a0a0a0" stroke-width="0.7"/>
<line x1="59.20" y1="462.15" x2="205.20" y2="462.15" stroke="#a0a0a0" stroke-width="0.7"/>
<line x1="59.20" y1="484.48" x2="205.20" y2="484.48" stroke="#a0a0a0" stroke-width="0.7"/>
<line x1="59.20" y1="506.81" x2="205.20" y2="506.81" stroke="#a0a0a0" stroke-width="0.7"/>
<line x1="59.20" y1="350.50" x2="59.20" y2="506.81" stroke="#a0a0a0" stroke-width="0.7"/>
<line x1="95.70" y1="350.50" x2="95.70" y2="506.81" stroke="#a0a0a0" stroke-width="0.7"/>
<line x1="132.20" y1="350.50" x2="132.20" y2="506.81" stroke="#a0a0a0" stroke-width="0.7"/>
<line x1="168.70" y1="350.50" x2="168.70" y2="506.81" stroke="#a0a0a0" stroke-width="0.7"/>
<line x1="205.20" y1="350.50" x2="205.20" y2="506.81" stroke="#a0a0a0" stroke-width="0.7"/>
<text x="113.95" y="390.30" font-size="12" text-anchor="middle" fill="#111">**</text>
<text x="150.45" y="390.30" font-size="12" text-anchor="middle" fill="#111">***</text>
<text x="186.95" y="390.30" font-size="12" text-anchor="middle" fill="#111">***</text>
<text x="77.45" y="412.62" font-size="12" text-anchor="middle" fill="#111">**</text>
<text x="113.95" y="412.62" font-size="12" text-anchor="middle" fill="#111">***</text>
<text x="150.45" y="412.62" font-size="12" text-anchor="middle" fill="#111">*</text>
<text x="186.95" y="412.62" font-size="12" text-anchor="middle" fill="#111">***</text>
<text x="77.45" y="434.95" font-size="12" text-anchor="middle" fill="#111">***</text>
<text x="113.95" y="434.95" font-size="12" text-anchor="middle" fill="#111">***</text>
<text x="150.45" y="434.95" font-size="12" text-anchor="middle" fill="#111">***</text>
<text x="186.95" y="434.95" font-size="12" text-anchor="middle" fill="#111">***</text>
<text x="77.45" y="457.29" font-size="12" text-anchor="middle" fill="#111">***</text>
<text x="113.95" y="457.29" font-size="12" text-anchor="middle" fill="#111">***</text>
<text x="150.45" y="457.29" font-size="12" text-anchor="middle" fill="#111">***</text>
<text x="186.95" y="457.29" font-size="12" text-anchor="middle" fill="#111">***</text>
<text x="77.45" y="479.62" font-size="12" text-anchor="middle" fill="#111">***</text>
<text x="113.95" y="479.62" font-size="12" text-anchor="middle" fill="#111">***</text>
<text x="150.45" y="479.62" font-size="12" text-anchor="middle" fill="#111">***</text>
<text x="186.95" y="479.62" font-size="12" text-anchor="middle" fill="#111">***</text>
<text x="77.45" y="501.94" font-size="12" text-anchor="middle" fill="#111">***</text>
<text x="113.95" y="501.94" font-size="12" text-anchor="middle" fill="#111">***</text>
<text x="150.45" y="501.94" font-size="12" text-anchor="middle" fill="#111">***</text>
<text x="186.95" y="501.94" font-size="12" text-anchor="middle" fill="#111">***</text>
<rect x="35.00" y="350.50" width="9.70" height="22.33" fill="#19d9b0" stroke="#a8a8a8" stroke-width="0.5"/>
<rect x="46.40" y="350.50" width="10.00" height="22.33" fill="#377eb8" stroke="#a8a8a8" stroke-width="0.5"/>
<rect x="35.00" y="372.83" width="9.70" height="22.33" fill="#19d9b0" stroke="#a8a8a8" stroke-width="0.5"/>
<rect x="46.40" y="372.83" width="10.00" height="22.33" fill="#ffa500" stroke="#a8a8a8" stroke-width="0.5"/>
<rect x="35.00" y="395.16" width="9.70" height="22.33" fill="#f780f2" stroke="#a8a8a8" stroke-width="0.5"/>
<rect x="46.40" y="395.16" width="10.00" height="22.33" fill="#bebebe" stroke="#a8a8a8" stroke-width="0.5"/>
<rect x="35.00" y="417.49" width="9.70" height="22.33" fill="#f780f2" stroke="#a8a8a8" stroke-width="0.5"/>
<rect x="46.40" y="417.49" width="10.00" height="22.33" fill="#bebebe" stroke="#a8a8a8" stroke-width="0.5"/>
<rect x="35.00" y="439.82" width="9.70" height="22.33" fill="#f780f2" stroke="#a8a8a8" stroke-width="0.5"/>
<rect x="46.40" y="439.82" width="10.00" height="22.33" fill="#ffa500" stroke="#a8a8a8" stroke-width="0.5"/>
<rect x="35.00" y="462.15" width="9.70" height="22.33" fill="#f780f2" stroke="#a8a8a8" stroke-width="0.5"/>
<rect x="46.40" y="462.15" width="10.00" height="22.33" fill="#377eb8" stroke="#a8a8a8" stroke-width="0.5"/>
<rect x="35.00" y="484.48" width="9.70" height="22.33" fill="#f780f2" stroke="#a8a8a8" stroke-width="0.5"/>
<rect x="46.40" y="484.48" width="10.00" height="22.33" fill="#ffa500" stroke="#a8a8a8" stroke-width="0.5"/>
<text x="209.90" y="364.87" font-size="9" text-anchor="start" fill="#231f20"><tspan font-style="italic">C. perfringens pfoA</tspan><tspan font-size="6" dy="-3">−</tspan><tspan dy="3"> (AM1) neutral</tspan></text>
<text x="209.90" y="387.19" font-size="9" text-anchor="start" fill="#231f20">Acetate:Butyrate mix pH 7</text>
<text x="209.90" y="409.52" font-size="9" text-anchor="start" fill="#231f20">Blank medium pH 4</text>
<text x="209.90" y="431.85" font-size="9" text-anchor="start" fill="#231f20">Blank medium pH 6</text>
<text x="209.90" y="454.19" font-size="9" text-anchor="start" fill="#231f20">Acetate:Butyrate Mix pH 4</text>
<text x="209.90" y="476.51" font-size="9" text-anchor="start" fill="#231f20"><tspan font-style="italic">C. perfringens pfoA</tspan><tspan font-size="6" dy="-3">−</tspan><tspan dy="3"> (AM1) acidic</tspan></text>
<text x="209.90" y="498.84" font-size="9" text-anchor="start" fill="#231f20">Acetate:Butyrate mix pH 6</text>
<text x="277.80" y="349.90" font-size="9" text-anchor="middle" fill="#231f20">CFS added</text>
<path d="M35.00,406.32 L30.80,406.32 L30.80,428.65 L35.00,428.65" stroke="#6d6d6d" stroke-width="0.8" fill="none"/>
<path d="M35.00,384.00 L28.40,384.00 L28.40,417.49 L30.80,417.49" stroke="#6d6d6d" stroke-width="0.8" fill="none"/>
<path d="M35.00,361.67 L24.50,361.67 L24.50,400.74 L28.40,400.74" stroke="#6d6d6d" stroke-width="0.8" fill="none"/>
<path d="M35.00,473.31 L21.40,473.31 L21.40,495.64 L35.00,495.64" stroke="#6d6d6d" stroke-width="0.8" fill="none"/>
<path d="M35.00,450.99 L15.40,450.99 L15.40,484.48 L21.40,484.48" stroke="#6d6d6d" stroke-width="0.8" fill="none"/>
<path d="M24.50,381.20 L10.00,381.20 L10.00,467.73 L15.40,467.73" stroke="#6d6d6d" stroke-width="0.8" fill="none"/>
<g transform="translate(41.80,515.00) rotate(-45)">
<text x="0" y="0.00" font-size="9" text-anchor="end" fill="#231f20">pH</text>
</g>
<g transform="translate(53.30,515.00) rotate(-45)">
<text x="0" y="0.00" font-size="9" text-anchor="end" fill="#231f20">CFS type</text>
</g>
<g transform="translate(85.95,522.50) rotate(-45)">
<text x="0" y="-10.80" font-size="9" text-anchor="end" fill="#231f20">Enterobacter</text>
<text x="0" y="0.00" font-size="9" text-anchor="end" fill="#231f20">cloacae</text>
</g>
<g transform="translate(123.05,522.50) rotate(-45)">
<text x="0" y="-10.80" font-size="9" text-anchor="end" fill="#231f20">Klebsiella</text>
<text x="0" y="0.00" font-size="9" text-anchor="end" fill="#231f20">oxytoca</text>
</g>
<g transform="translate(160.15,522.50) rotate(-45)">
<text x="0" y="-10.80" font-size="9" text-anchor="end" fill="#231f20">Klebsiella</text>
<text x="0" y="0.00" font-size="9" text-anchor="end" fill="#231f20">pneumoniae</text>
</g>
<g transform="translate(197.25,522.50) rotate(-45)">
<text x="0" y="-10.80" font-size="9" text-anchor="end" fill="#231f20">Escherichia</text>
<text x="0" y="0.00" font-size="9" text-anchor="end" fill="#231f20">coli</text>
</g>
<text x="227.40" y="523.60" font-size="8.6" text-anchor="start" fill="#231f20">CFS type</text>
<rect x="226.80" y="529.90" width="7.90" height="7.70" fill="#377eb8"/>
<text x="239.40" y="535.60" font-size="7.5" text-anchor="start" fill="#231f20">Clostridium</text>
<rect x="226.80" y="542.20" width="7.90" height="7.70" fill="#ffa500"/>
<text x="239.40" y="548.00" font-size="7.5" text-anchor="start" fill="#231f20">SCFA</text>
<rect x="226.80" y="554.20" width="7.90" height="7.70" fill="#bebebe"/>
<text x="239.40" y="560.20" font-size="7.5" text-anchor="start" fill="#231f20">Blank medium</text>
<text x="307.80" y="523.60" font-size="8.6" text-anchor="start" fill="#231f20">pH</text>
<rect x="307.80" y="529.90" width="7.90" height="7.70" fill="#f780f2"/>
<text x="319.80" y="535.60" font-size="7.5" text-anchor="start" fill="#231f20">Acidic</text>
<rect x="307.80" y="542.20" width="7.90" height="7.70" fill="#19d9b0"/>
<text x="319.80" y="548.00" font-size="7.5" text-anchor="start" fill="#231f20">Neutral</text>
<text x="318.00" y="574.50" font-size="8.5" text-anchor="start" fill="#231f20"><tspan font-style="italic">P</tspan> values</text>
<text x="318.00" y="586.50" font-size="8.5" text-anchor="start" fill="#231f20">* &lt; 0.05</text>
<text x="318.00" y="598.30" font-size="8.5" text-anchor="start" fill="#231f20">** &lt; 0.01</text>
<text x="318.00" y="609.60" font-size="8.5" text-anchor="start" fill="#231f20">*** &lt; 0.001</text>
<text x="112.50" y="574.20" font-size="9.1" text-anchor="middle" fill="#231f20">% of area under control growth curve</text>
<text x="59.90" y="586.40" font-size="8.2" text-anchor="middle" fill="#231f20">100</text>
<text x="81.66" y="586.40" font-size="8.2" text-anchor="middle" fill="#231f20">80</text>
<text x="103.42" y="586.40" font-size="8.2" text-anchor="middle" fill="#231f20">60</text>
<text x="125.18" y="586.40" font-size="8.2" text-anchor="middle" fill="#231f20">40</text>
<text x="146.94" y="586.40" font-size="8.2" text-anchor="middle" fill="#231f20">20</text>
<text x="168.70" y="586.40" font-size="8.2" text-anchor="middle" fill="#231f20">0</text>
<rect x="70.60" y="589.50" width="97.60" height="8.00" fill="url(#redg)"/>
<text x="39.90" y="608.80" font-size="9.3" text-anchor="start" fill="#231f20">No inhibition</text>
<line x1="97.50" y1="605.80" x2="129.80" y2="605.80" stroke="#000" stroke-width="1.0"/>
<path d="M94.50,605.80 L99.00,603.60 L99.00,608.00 Z" stroke="none" stroke-width="0" fill="#000"/>
<path d="M132.80,605.80 L128.30,603.60 L128.30,608.00 Z" stroke="none" stroke-width="0" fill="#000"/>
<text x="136.50" y="608.80" font-size="9.3" text-anchor="start" fill="#231f20">Complete inhibition</text>
<text x="396.00" y="344.20" font-size="13" text-anchor="start" fill="#000" font-weight="bold">d</text>
<rect x="452.90" y="376.70" width="41.23" height="36.20" fill="#0000ee"/>
<rect x="494.13" y="376.70" width="41.23" height="36.20" fill="#0000e0"/>
<rect x="535.36" y="376.70" width="41.23" height="36.20" fill="#6d8ae8"/>
<rect x="452.90" y="412.90" width="41.23" height="36.20" fill="#00008a"/>
<rect x="494.13" y="412.90" width="41.23" height="36.20" fill="#2828f5"/>
<rect x="535.36" y="412.90" width="41.23" height="36.20" fill="#ffa8a8"/>
<rect x="452.90" y="449.10" width="41.23" height="36.20" fill="#0000a8"/>
<rect x="494.13" y="449.10" width="41.23" height="36.20" fill="#6d8ae8"/>
<rect x="535.36" y="449.10" width="41.23" height="36.20" fill="#ff8585"/>
<line x1="452.90" y1="376.70" x2="576.59" y2="376.70" stroke="#a0a0a0" stroke-width="0.7"/>
<line x1="452.90" y1="412.90" x2="576.59" y2="412.90" stroke="#a0a0a0" stroke-width="0.7"/>
<line x1="452.90" y1="449.10" x2="576.59" y2="449.10" stroke="#a0a0a0" stroke-width="0.7"/>
<line x1="452.90" y1="485.30" x2="576.59" y2="485.30" stroke="#a0a0a0" stroke-width="0.7"/>
<line x1="452.90" y1="376.70" x2="452.90" y2="485.30" stroke="#a0a0a0" stroke-width="0.7"/>
<line x1="494.13" y1="376.70" x2="494.13" y2="485.30" stroke="#a0a0a0" stroke-width="0.7"/>
<line x1="535.36" y1="376.70" x2="535.36" y2="485.30" stroke="#a0a0a0" stroke-width="0.7"/>
<line x1="576.59" y1="376.70" x2="576.59" y2="485.30" stroke="#a0a0a0" stroke-width="0.7"/>
<text x="473.51" y="401.40" font-size="12" text-anchor="middle" fill="#f4f4f4">**</text>
<text x="514.75" y="401.40" font-size="12" text-anchor="middle" fill="#f4f4f4">*</text>
<text x="473.51" y="437.60" font-size="12" text-anchor="middle" fill="#f4f4f4">***</text>
<text x="514.75" y="437.60" font-size="12" text-anchor="middle" fill="#f4f4f4">*</text>
<text x="473.51" y="473.80" font-size="12" text-anchor="middle" fill="#f4f4f4">***</text>
<text x="514.75" y="473.80" font-size="12" text-anchor="middle" fill="#f4f4f4">*</text>
<text x="555.97" y="473.80" font-size="12" text-anchor="middle" fill="#f4f4f4">**</text>
<text x="580.70" y="372.30" font-size="9" text-anchor="start" fill="#231f20">Time point</text>
<text x="580.70" y="398.00" font-size="9" text-anchor="start" fill="#231f20">10 h</text>
<text x="580.70" y="434.20" font-size="9" text-anchor="start" fill="#231f20">24 h</text>
<text x="580.70" y="470.40" font-size="9" text-anchor="start" fill="#231f20">48 h</text>
<g transform="translate(472.71,491.90) rotate(-45)"><text x="0" y="0" font-size="9" text-anchor="end" fill="#231f20">B. longum</text></g>
<g transform="translate(517.45,491.90) rotate(-45)"><text x="0" y="0" font-size="9" text-anchor="end" fill="#231f20">B. breve</text></g>
<g transform="translate(556.27,491.90) rotate(-45)"><text x="0" y="0" font-size="9" text-anchor="end" fill="#231f20">B. infantis</text></g>
<text x="521.50" y="541.30" font-size="9.1" text-anchor="middle" fill="#231f20">% of area under control growth curve</text>
<rect x="424.90" y="558.30" width="79.70" height="7.20" fill="url(#blueg)"/>
<rect x="516.50" y="558.30" width="95.40" height="7.20" fill="url(#redg2)"/>
<text x="453.80" y="556.20" font-size="8.2" text-anchor="middle" fill="#231f20">300</text>
<text x="510.40" y="556.20" font-size="8.2" text-anchor="middle" fill="#231f20">100</text>
<text x="549.20" y="556.20" font-size="8.2" text-anchor="middle" fill="#231f20">60</text>
<text x="591.10" y="556.20" font-size="8.2" text-anchor="middle" fill="#231f20">20</text>
<text x="424.50" y="572.80" font-size="8.2" text-anchor="middle" fill="#231f20">400</text>
<text x="483.40" y="572.80" font-size="8.2" text-anchor="middle" fill="#231f20">200</text>
<text x="528.10" y="572.80" font-size="8.2" text-anchor="middle" fill="#231f20">80</text>
<text x="570.30" y="572.80" font-size="8.2" text-anchor="middle" fill="#231f20">40</text>
<text x="611.90" y="572.80" font-size="8.2" text-anchor="middle" fill="#231f20">0</text>
<text x="478.70" y="584.80" font-size="9.3" text-anchor="end" fill="#231f20">Promotion of growth</text>
<line x1="485.80" y1="581.80" x2="540.60" y2="581.80" stroke="#000" stroke-width="1.0"/>
<path d="M482.80,581.80 L487.30,579.60 L487.30,584.00 Z" stroke="none" stroke-width="0" fill="#000"/>
<path d="M543.60,581.80 L539.10,579.60 L539.10,584.00 Z" stroke="none" stroke-width="0" fill="#000"/>
<text x="545.40" y="584.80" font-size="9.3" text-anchor="start" fill="#231f20">Inhibition of growth</text>
<text x="631.20" y="541.50" font-size="8.5" text-anchor="start" fill="#231f20"><tspan font-style="italic">P</tspan> values</text>
<text x="631.20" y="552.80" font-size="8.5" text-anchor="start" fill="#231f20">* &lt; 0.05</text>
<text x="631.20" y="564.60" font-size="8.5" text-anchor="start" fill="#231f20">** &lt; 0.01</text>
<text x="631.20" y="576.10" font-size="8.5" text-anchor="start" fill="#231f20">*** &lt; 0.001</text>
<text x="-0.30" y="637.50" font-size="13" text-anchor="start" fill="#000" font-weight="bold">e</text>
<rect x="37.50" y="638.60" width="161.20" height="155.50" fill="none" stroke="#8a8a8a" stroke-width="0.8"/>
<line x1="44.50" y1="794.10" x2="44.50" y2="796.90" stroke="#666" stroke-width="0.8"/>
<text x="44.50" y="806.90" font-size="7.8" text-anchor="middle" fill="#333">0</text>
<line x1="75.06" y1="794.10" x2="75.06" y2="796.90" stroke="#666" stroke-width="0.8"/>
<text x="75.06" y="806.90" font-size="7.8" text-anchor="middle" fill="#333">10</text>
<line x1="105.62" y1="794.10" x2="105.62" y2="796.90" stroke="#666" stroke-width="0.8"/>
<text x="105.62" y="806.90" font-size="7.8" text-anchor="middle" fill="#333">20</text>
<line x1="136.18" y1="794.10" x2="136.18" y2="796.90" stroke="#666" stroke-width="0.8"/>
<text x="136.18" y="806.90" font-size="7.8" text-anchor="middle" fill="#333">30</text>
<line x1="166.74" y1="794.10" x2="166.74" y2="796.90" stroke="#666" stroke-width="0.8"/>
<text x="166.74" y="806.90" font-size="7.8" text-anchor="middle" fill="#333">40</text>
<line x1="197.30" y1="794.10" x2="197.30" y2="796.90" stroke="#666" stroke-width="0.8"/>
<text x="197.30" y="806.90" font-size="7.8" text-anchor="middle" fill="#333">50</text>
<rect x="207.40" y="638.60" width="161.20" height="155.50" fill="none" stroke="#8a8a8a" stroke-width="0.8"/>
<line x1="214.80" y1="794.10" x2="214.80" y2="796.90" stroke="#666" stroke-width="0.8"/>
<text x="214.80" y="806.90" font-size="7.8" text-anchor="middle" fill="#333">0</text>
<line x1="245.36" y1="794.10" x2="245.36" y2="796.90" stroke="#666" stroke-width="0.8"/>
<text x="245.36" y="806.90" font-size="7.8" text-anchor="middle" fill="#333">10</text>
<line x1="275.92" y1="794.10" x2="275.92" y2="796.90" stroke="#666" stroke-width="0.8"/>
<text x="275.92" y="806.90" font-size="7.8" text-anchor="middle" fill="#333">20</text>
<line x1="306.48" y1="794.10" x2="306.48" y2="796.90" stroke="#666" stroke-width="0.8"/>
<text x="306.48" y="806.90" font-size="7.8" text-anchor="middle" fill="#333">30</text>
<line x1="337.04" y1="794.10" x2="337.04" y2="796.90" stroke="#666" stroke-width="0.8"/>
<text x="337.04" y="806.90" font-size="7.8" text-anchor="middle" fill="#333">40</text>
<line x1="367.60" y1="794.10" x2="367.60" y2="796.90" stroke="#666" stroke-width="0.8"/>
<text x="367.60" y="806.90" font-size="7.8" text-anchor="middle" fill="#333">50</text>
<rect x="377.50" y="638.60" width="161.10" height="155.50" fill="none" stroke="#8a8a8a" stroke-width="0.8"/>
<line x1="385.00" y1="794.10" x2="385.00" y2="796.90" stroke="#666" stroke-width="0.8"/>
<text x="385.00" y="806.90" font-size="7.8" text-anchor="middle" fill="#333">0</text>
<line x1="415.56" y1="794.10" x2="415.56" y2="796.90" stroke="#666" stroke-width="0.8"/>
<text x="415.56" y="806.90" font-size="7.8" text-anchor="middle" fill="#333">10</text>
<line x1="446.12" y1="794.10" x2="446.12" y2="796.90" stroke="#666" stroke-width="0.8"/>
<text x="446.12" y="806.90" font-size="7.8" text-anchor="middle" fill="#333">20</text>
<line x1="476.68" y1="794.10" x2="476.68" y2="796.90" stroke="#666" stroke-width="0.8"/>
<text x="476.68" y="806.90" font-size="7.8" text-anchor="middle" fill="#333">30</text>
<line x1="507.24" y1="794.10" x2="507.24" y2="796.90" stroke="#666" stroke-width="0.8"/>
<text x="507.24" y="806.90" font-size="7.8" text-anchor="middle" fill="#333">40</text>
<line x1="537.80" y1="794.10" x2="537.80" y2="796.90" stroke="#666" stroke-width="0.8"/>
<text x="537.80" y="806.90" font-size="7.8" text-anchor="middle" fill="#333">50</text>
<line x1="34.20" y1="787.00" x2="37.50" y2="787.00" stroke="#666" stroke-width="0.8"/>
<text x="30.00" y="789.80" font-size="7.8" text-anchor="end" fill="#333">0</text>
<line x1="34.20" y1="751.65" x2="37.50" y2="751.65" stroke="#666" stroke-width="0.8"/>
<text x="30.00" y="754.45" font-size="7.8" text-anchor="end" fill="#333">0.25</text>
<line x1="34.20" y1="716.30" x2="37.50" y2="716.30" stroke="#666" stroke-width="0.8"/>
<text x="30.00" y="719.10" font-size="7.8" text-anchor="end" fill="#333">0.50</text>
<line x1="34.20" y1="680.95" x2="37.50" y2="680.95" stroke="#666" stroke-width="0.8"/>
<text x="30.00" y="683.75" font-size="7.8" text-anchor="end" fill="#333">0.75</text>
<line x1="34.20" y1="645.60" x2="37.50" y2="645.60" stroke="#666" stroke-width="0.8"/>
<text x="30.00" y="648.40" font-size="7.8" text-anchor="end" fill="#333">1.00</text>
<text transform="translate(8.0,728.6) rotate(-90)" font-size="9.3" fill="#231f20">OD<tspan font-size="6" dy="2.4">600</tspan></text>
<text x="118.10" y="635.00" font-size="8.5" text-anchor="middle" fill="#231f20" font-style="italic">B. longum</text>
<text x="288.00" y="635.00" font-size="8.5" text-anchor="middle" fill="#231f20" font-style="italic">B. breve</text>
<text x="458.00" y="635.00" font-size="8.5" text-anchor="middle" fill="#231f20" font-style="italic">B. infantis</text>
<text x="288.00" y="819.20" font-size="9" text-anchor="middle" fill="#231f20">Time (h)</text>
<text x="544.20" y="707.10" font-size="9" text-anchor="start" fill="#231f20">Treatment</text>
<line x1="544.20" y1="716.30" x2="551.40" y2="716.30" stroke="#009e73" stroke-width="2.4"/>
<text x="556.20" y="718.50" font-size="7.5" text-anchor="start" fill="#231f20">Blank medium</text>
<line x1="544.20" y1="729.00" x2="551.40" y2="729.00" stroke="#e69f00" stroke-width="2.4"/>
<text x="556.20" y="731.20" font-size="7.5" text-anchor="start" fill="#231f20"><tspan font-style="italic">C. perfringens </tspan><tspan font-style="italic" font-size="8.6">pfoA</tspan><tspan font-size="6" dy="-3">−</tspan><tspan dy="3" font-size="8.6"> (AM1)</tspan></text>
<path d="M45.00,782.90 L46.00,783.17 L47.00,783.36 L48.00,783.46 L49.00,783.48 L50.00,783.43 L51.00,783.31 L52.00,783.11 L53.00,782.85 L54.00,782.52 L55.00,782.13 L56.00,781.68 L57.00,781.18 L58.00,780.61 L59.00,780.00 L60.00,779.34 L61.00,778.62 L62.00,777.84 L63.00,776.98 L64.00,776.02 L65.00,774.94 L66.00,773.73 L67.00,772.37 L68.00,770.84 L69.00,769.13 L70.00,767.23 L71.00,765.14 L72.00,762.89 L73.00,760.47 L74.00,757.90 L75.00,755.18 L76.00,752.32 L77.00,749.34 L78.00,746.24 L79.00,743.02 L80.00,739.71 L81.00,736.32 L82.00,732.88 L83.00,729.39 L84.00,725.87 L85.00,722.36 L86.00,718.86 L87.00,715.40 L88.00,712.00 L89.00,708.67 L90.00,705.42 L91.00,702.25 L92.00,699.14 L93.00,696.09 L94.00,693.10 L95.00,690.21 L96.00,687.47 L97.00,684.92 L98.00,682.61 L99.00,680.55 L100.00,678.71 L101.00,677.09 L102.00,675.65 L103.00,674.38 L104.00,673.25 L105.00,672.27 L106.00,671.40 L107.00,670.65 L108.00,670.00 L109.00,669.44 L110.00,668.96 L111.00,668.55 L112.00,668.20 L113.00,667.90 L114.00,667.66 L115.00,667.46 L116.00,667.30 L117.00,667.18 L118.00,667.10 L119.00,667.04 L120.00,667.01 L121.00,666.99 L122.00,667.00 L123.00,667.03 L124.00,667.09 L125.00,667.19 L126.00,667.33 L127.00,667.51 L128.00,667.74 L129.00,668.02 L130.00,668.37 L131.00,668.76 L132.00,669.20 L133.00,669.67 L134.00,670.17 L135.00,670.68 L136.00,671.20 L137.00,671.73 L138.00,672.24 L139.00,672.73 L140.00,673.20 L141.00,673.63 L142.00,674.02 L143.00,674.39 L144.00,674.72 L145.00,675.01 L146.00,675.28 L147.00,675.51 L148.00,675.72 L149.00,675.89 L150.00,676.04 L151.00,676.16 L152.00,676.25 L153.00,676.31 L154.00,676.36 L155.00,676.37 L156.00,676.37 L157.00,676.34 L158.00,676.29 L159.00,676.22 L160.00,676.13 L161.00,676.02 L162.00,675.89 L163.00,675.74 L164.00,675.58 L165.00,675.40 L166.00,675.21 L167.00,675.00 L168.00,674.78 L169.00,674.55 L170.00,674.30 L171.00,674.05 L172.00,673.78 L173.00,673.50 L174.00,673.22 L175.00,672.93 L176.00,672.63 L177.00,672.33 L178.00,672.02 L179.00,671.71 L180.00,671.39 L181.00,671.08 L182.00,670.76 L183.00,670.44 L184.00,670.12 L185.00,669.80 L186.00,669.48 L187.00,669.16 L188.00,668.85 L189.00,668.54 L190.00,668.24 L190.80,668.00" stroke="#e69f00" stroke-width="2.4" fill="none" stroke-linecap="butt" stroke-linejoin="round"/>
<path d="M45.00,787.30 L46.00,787.04 L47.00,786.78 L48.00,786.51 L49.00,786.23 L50.00,785.95 L51.00,785.66 L52.00,785.37 L53.00,785.07 L54.00,784.77 L55.00,784.46 L56.00,784.15 L57.00,783.84 L58.00,783.52 L59.00,783.19 L60.00,782.87 L61.00,782.54 L62.00,782.22 L63.00,781.89 L64.00,781.55 L65.00,781.21 L66.00,780.85 L67.00,780.48 L68.00,780.09 L69.00,779.68 L70.00,779.25 L71.00,778.77 L72.00,778.25 L73.00,777.68 L74.00,777.08 L75.00,776.46 L76.00,775.82 L77.00,775.18 L78.00,774.54 L79.00,773.91 L80.00,773.30 L81.00,772.70 L82.00,772.10 L83.00,771.49 L84.00,770.88 L85.00,770.28 L86.00,769.67 L87.00,769.07 L88.00,768.47 L89.00,767.87 L90.00,767.28 L91.00,766.70 L92.00,766.13 L93.00,765.55 L94.00,764.97 L95.00,764.38 L96.00,763.80 L97.00,763.23 L98.00,762.66 L99.00,762.10 L100.00,761.56 L101.00,761.05 L102.00,760.55 L103.00,760.08 L104.00,759.64 L105.00,759.20 L106.00,758.77 L107.00,758.35 L108.00,757.95 L109.00,757.57 L110.00,757.22 L111.00,756.89 L112.00,756.59 L113.00,756.32 L114.00,756.07 L115.00,755.83 L116.00,755.60 L117.00,755.40 L118.00,755.22 L119.00,755.08 L120.00,754.97 L121.00,754.88 L122.00,754.80 L123.00,754.72 L124.00,754.65 L125.00,754.59 L126.00,754.53 L127.00,754.48 L128.00,754.43 L129.00,754.38 L130.00,754.33 L131.00,754.28 L132.00,754.23 L133.00,754.18 L134.00,754.13 L135.00,754.07 L136.00,754.02 L137.00,753.97 L138.00,753.92 L139.00,753.87 L140.00,753.83 L141.00,753.78 L142.00,753.73 L143.00,753.69 L144.00,753.64 L145.00,753.60 L146.00,753.56 L147.00,753.52 L148.00,753.48 L149.00,753.44 L150.00,753.40 L151.00,753.37 L152.00,753.34 L153.00,753.30 L154.00,753.27 L155.00,753.24 L156.00,753.21 L157.00,753.18 L158.00,753.16 L159.00,753.13 L160.00,753.10 L161.00,753.07 L162.00,753.04 L163.00,753.02 L164.00,752.99 L165.00,752.96 L166.00,752.93 L167.00,752.90 L168.00,752.88 L169.00,752.85 L170.00,752.82 L171.00,752.80 L172.00,752.77 L173.00,752.74 L174.00,752.72 L175.00,752.69 L176.00,752.66 L177.00,752.64 L178.00,752.61 L179.00,752.59 L180.00,752.56 L181.00,752.53 L182.00,752.51 L183.00,752.48 L184.00,752.46 L185.00,752.44 L186.00,752.41 L187.00,752.39 L188.00,752.36 L189.00,752.34 L190.00,752.32 L190.80,752.30" stroke="#009e73" stroke-width="2.4" fill="none" stroke-linecap="butt" stroke-linejoin="round"/>
<path d="M214.70,785.97 L215.70,785.33 L216.70,784.69 L217.70,784.07 L218.70,783.46 L219.70,782.85 L220.70,782.26 L221.70,781.69 L222.70,781.12 L223.70,780.56 L224.70,780.01 L225.70,779.48 L226.70,778.95 L227.70,778.43 L228.70,777.93 L229.70,777.43 L230.70,776.94 L231.70,776.46 L232.70,776.00 L233.70,775.54 L234.70,775.09 L235.70,774.65 L236.70,774.21 L237.70,773.79 L238.70,773.38 L239.70,772.97 L240.70,772.57 L241.70,772.18 L242.70,771.80 L243.70,771.42 L244.70,771.06 L245.70,770.70 L246.70,770.35 L247.70,770.00 L248.70,769.67 L249.70,769.34 L250.70,769.01 L251.70,768.69 L252.70,768.38 L253.70,768.07 L254.70,767.77 L255.70,767.47 L256.70,767.17 L257.70,766.88 L258.70,766.59 L259.70,766.30 L260.70,766.01 L261.70,765.73 L262.70,765.44 L263.70,765.16 L264.70,764.88 L265.70,764.59 L266.70,764.31 L267.70,764.02 L268.70,763.73 L269.70,763.44 L270.70,763.15 L271.70,762.86 L272.70,762.57 L273.70,762.28 L274.70,761.99 L275.70,761.70 L276.70,761.41 L277.70,761.12 L278.70,760.83 L279.70,760.54 L280.70,760.25 L281.70,759.96 L282.70,759.67 L283.70,759.38 L284.70,759.09 L285.70,758.80 L286.70,758.52 L287.70,758.23 L288.70,757.95 L289.70,757.66 L290.70,757.38 L291.70,757.10 L292.70,756.82 L293.70,756.55 L294.70,756.27 L295.70,756.00 L296.70,755.73 L297.70,755.46 L298.70,755.19 L299.70,754.92 L300.70,754.66 L301.70,754.40 L302.70,754.14 L303.70,753.89 L304.70,753.63 L305.70,753.38 L306.70,753.13 L307.70,752.89 L308.70,752.65 L309.70,752.41 L310.70,752.18 L311.70,751.95 L312.70,751.72 L313.70,751.49 L314.70,751.27 L315.70,751.06 L316.70,750.84 L317.70,750.63 L318.70,750.43 L319.70,750.23 L320.70,750.03 L321.70,749.84 L322.70,749.65 L323.70,749.47 L324.70,749.29 L325.70,749.11 L326.70,748.95 L327.70,748.78 L328.70,748.62 L329.70,748.47 L330.70,748.31 L331.70,748.16 L332.70,748.02 L333.70,747.87 L334.70,747.73 L335.70,747.58 L336.70,747.44 L337.70,747.30 L338.70,747.15 L339.70,747.01 L340.70,746.86 L341.70,746.71 L342.70,746.56 L343.70,746.41 L344.70,746.25 L345.70,746.08 L346.70,745.91 L347.70,745.74 L348.70,745.56 L349.70,745.37 L350.70,745.18 L351.70,744.98 L352.70,744.77 L353.70,744.55 L354.70,744.33 L355.70,744.09 L356.70,743.85 L357.70,743.59 L358.70,743.32 L359.70,743.04 L360.70,742.75" stroke="#e69f00" stroke-width="2.4" fill="none" stroke-linecap="butt" stroke-linejoin="round"/>
<path d="M214.70,785.79 L215.70,785.75 L216.70,785.71 L217.70,785.65 L218.70,785.59 L219.70,785.53 L220.70,785.45 L221.70,785.37 L222.70,785.29 L223.70,785.19 L224.70,785.09 L225.70,784.99 L226.70,784.88 L227.70,784.76 L228.70,784.63 L229.70,784.50 L230.70,784.37 L231.70,784.23 L232.70,784.08 L233.70,783.92 L234.70,783.77 L235.70,783.60 L236.70,783.43 L237.70,783.25 L238.70,783.07 L239.70,782.89 L240.70,782.70 L241.70,782.50 L242.70,782.30 L243.70,782.09 L244.70,781.88 L245.70,781.66 L246.70,781.44 L247.70,781.21 L248.70,780.98 L249.70,780.74 L250.70,780.50 L251.70,780.26 L252.70,780.01 L253.70,779.75 L254.70,779.49 L255.70,779.23 L256.70,778.96 L257.70,778.69 L258.70,778.42 L259.70,778.14 L260.70,777.85 L261.70,777.57 L262.70,777.28 L263.70,776.99 L264.70,776.69 L265.70,776.39 L266.70,776.09 L267.70,775.79 L268.70,775.48 L269.70,775.17 L270.70,774.86 L271.70,774.55 L272.70,774.24 L273.70,773.92 L274.70,773.60 L275.70,773.28 L276.70,772.97 L277.70,772.65 L278.70,772.32 L279.70,772.00 L280.70,771.68 L281.70,771.36 L282.70,771.04 L283.70,770.71 L284.70,770.39 L285.70,770.07 L286.70,769.75 L287.70,769.43 L288.70,769.11 L289.70,768.79 L290.70,768.47 L291.70,768.16 L292.70,767.84 L293.70,767.53 L294.70,767.22 L295.70,766.91 L296.70,766.60 L297.70,766.30 L298.70,765.99 L299.70,765.69 L300.70,765.40 L301.70,765.10 L302.70,764.81 L303.70,764.53 L304.70,764.24 L305.70,763.96 L306.70,763.68 L307.70,763.41 L308.70,763.14 L309.70,762.87 L310.70,762.60 L311.70,762.34 L312.70,762.08 L313.70,761.82 L314.70,761.57 L315.70,761.32 L316.70,761.07 L317.70,760.82 L318.70,760.58 L319.70,760.34 L320.70,760.10 L321.70,759.86 L322.70,759.62 L323.70,759.39 L324.70,759.16 L325.70,758.93 L326.70,758.70 L327.70,758.47 L328.70,758.25 L329.70,758.03 L330.70,757.81 L331.70,757.59 L332.70,757.37 L333.70,757.15 L334.70,756.93 L335.70,756.72 L336.70,756.51 L337.70,756.29 L338.70,756.08 L339.70,755.87 L340.70,755.66 L341.70,755.45 L342.70,755.25 L343.70,755.04 L344.70,754.83 L345.70,754.63 L346.70,754.42 L347.70,754.21 L348.70,754.01 L349.70,753.80 L350.70,753.60 L351.70,753.39 L352.70,753.19 L353.70,752.98 L354.70,752.78 L355.70,752.57 L356.70,752.37 L357.70,752.16 L358.70,751.96 L359.70,751.75 L360.70,751.54" stroke="#009e73" stroke-width="2.4" fill="none" stroke-linecap="butt" stroke-linejoin="round"/>
<path d="M384.70,786.10 L385.70,786.38 L386.70,786.61 L387.70,786.78 L388.70,786.90 L389.70,786.97 L390.70,786.99 L391.70,786.96 L392.70,786.89 L393.70,786.78 L394.70,786.64 L395.70,786.45 L396.70,786.24 L397.70,785.99 L398.70,785.71 L399.70,785.41 L400.70,785.08 L401.70,784.72 L402.70,784.35 L403.70,783.96 L404.70,783.56 L405.70,783.14 L406.70,782.71 L407.70,782.27 L408.70,781.82 L409.70,781.37 L410.70,780.92 L411.70,780.47 L412.70,780.02 L413.70,779.58 L414.70,779.15 L415.70,778.72 L416.70,778.30 L417.70,777.89 L418.70,777.49 L419.70,777.10 L420.70,776.70 L421.70,776.31 L422.70,775.93 L423.70,775.54 L424.70,775.15 L425.70,774.76 L426.70,774.37 L427.70,773.97 L428.70,773.57 L429.70,773.15 L430.70,772.73 L431.70,772.30 L432.70,771.86 L433.70,771.41 L434.70,770.94 L435.70,770.46 L436.70,769.96 L437.70,769.45 L438.70,768.91 L439.70,768.35 L440.70,767.75 L441.70,767.12 L442.70,766.44 L443.70,765.72 L444.70,764.94 L445.70,764.11 L446.70,763.21 L447.70,762.23 L448.70,761.19 L449.70,760.07 L450.70,758.89 L451.70,757.65 L452.70,756.35 L453.70,755.01 L454.70,753.61 L455.70,752.18 L456.70,750.70 L457.70,749.20 L458.70,747.67 L459.70,746.12 L460.70,744.55 L461.70,742.97 L462.70,741.39 L463.70,739.81 L464.70,738.23 L465.70,736.66 L466.70,735.11 L467.70,733.58 L468.70,732.08 L469.70,730.62 L470.70,729.19 L471.70,727.80 L472.70,726.47 L473.70,725.19 L474.70,723.97 L475.70,722.81 L476.70,721.70 L477.70,720.64 L478.70,719.62 L479.70,718.66 L480.70,717.73 L481.70,716.85 L482.70,716.01 L483.70,715.20 L484.70,714.42 L485.70,713.68 L486.70,712.96 L487.70,712.27 L488.70,711.60 L489.70,710.96 L490.70,710.34 L491.70,709.73 L492.70,709.15 L493.70,708.59 L494.70,708.06 L495.70,707.54 L496.70,707.04 L497.70,706.55 L498.70,706.09 L499.70,705.64 L500.70,705.21 L501.70,704.80 L502.70,704.40 L503.70,704.02 L504.70,703.65 L505.70,703.30 L506.70,702.96 L507.70,702.64 L508.70,702.33 L509.70,702.03 L510.70,701.75 L511.70,701.48 L512.70,701.22 L513.70,700.98 L514.70,700.74 L515.70,700.52 L516.70,700.32 L517.70,700.12 L518.70,699.93 L519.70,699.76 L520.70,699.60 L521.70,699.44 L522.70,699.30 L523.70,699.17 L524.70,699.05 L525.70,698.93 L526.70,698.83 L527.70,698.74 L528.70,698.65 L529.70,698.57 L530.70,698.50 L530.70,698.50" stroke="#e69f00" stroke-width="2.4" fill="none" stroke-linecap="butt" stroke-linejoin="round"/>
<path d="M384.70,786.80 L385.70,786.90 L386.70,786.99 L387.70,787.06 L388.70,787.12 L389.70,787.17 L390.70,787.21 L391.70,787.24 L392.70,787.26 L393.70,787.28 L394.70,787.29 L395.70,787.30 L396.70,787.30 L397.70,787.30 L398.70,787.30 L399.70,787.28 L400.70,787.22 L401.70,787.12 L402.70,786.98 L403.70,786.82 L404.70,786.62 L405.70,786.41 L406.70,786.17 L407.70,785.91 L408.70,785.64 L409.70,785.36 L410.70,785.07 L411.70,784.77 L412.70,784.47 L413.70,784.18 L414.70,783.89 L415.70,783.60 L416.70,783.30 L417.70,782.98 L418.70,782.64 L419.70,782.28 L420.70,781.91 L421.70,781.51 L422.70,781.08 L423.70,780.63 L424.70,780.15 L425.70,779.64 L426.70,779.10 L427.70,778.51 L428.70,777.85 L429.70,777.13 L430.70,776.34 L431.70,775.49 L432.70,774.58 L433.70,773.62 L434.70,772.59 L435.70,771.52 L436.70,770.38 L437.70,769.19 L438.70,767.87 L439.70,766.43 L440.70,764.85 L441.70,763.14 L442.70,761.32 L443.70,759.37 L444.70,757.31 L445.70,755.12 L446.70,752.64 L447.70,749.86 L448.70,746.85 L449.70,743.66 L450.70,740.36 L451.70,737.03 L452.70,733.70 L453.70,730.24 L454.70,726.63 L455.70,722.92 L456.70,719.16 L457.70,715.39 L458.70,711.66 L459.70,707.99 L460.70,704.07 L461.70,699.97 L462.70,695.98 L463.70,692.36 L464.70,689.38 L465.70,687.22 L466.70,685.38 L467.70,683.78 L468.70,682.50 L469.70,681.62 L470.70,681.07 L471.70,680.57 L472.70,680.14 L473.70,679.80 L474.70,679.55 L475.70,679.42 L476.70,679.49 L477.70,680.13 L478.70,681.22 L479.70,682.57 L480.70,683.97 L481.70,685.22 L482.70,686.14 L483.70,686.76 L484.70,687.37 L485.70,687.97 L486.70,688.54 L487.70,689.08 L488.70,689.58 L489.70,690.02 L490.70,690.40 L491.70,690.71 L492.70,690.93 L493.70,691.07 L494.70,691.10 L495.70,691.05 L496.70,690.93 L497.70,690.75 L498.70,690.52 L499.70,690.23 L500.70,689.90 L501.70,689.53 L502.70,689.13 L503.70,688.69 L504.70,688.23 L505.70,687.75 L506.70,687.25 L507.70,686.75 L508.70,686.25 L509.70,685.74 L510.70,685.25 L511.70,684.73 L512.70,684.16 L513.70,683.53 L514.70,682.86 L515.70,682.15 L516.70,681.41 L517.70,680.64 L518.70,679.87 L519.70,679.09 L520.70,678.31 L521.70,677.51 L522.70,676.68 L523.70,675.83 L524.70,674.96 L525.70,674.07 L526.70,673.16 L527.70,672.22 L528.70,671.27 L529.70,670.29 L530.70,669.30 L530.70,669.30" stroke="#009e73" stroke-width="2.4" fill="none" stroke-linecap="butt" stroke-linejoin="round"/>
</svg>
</body></html>
